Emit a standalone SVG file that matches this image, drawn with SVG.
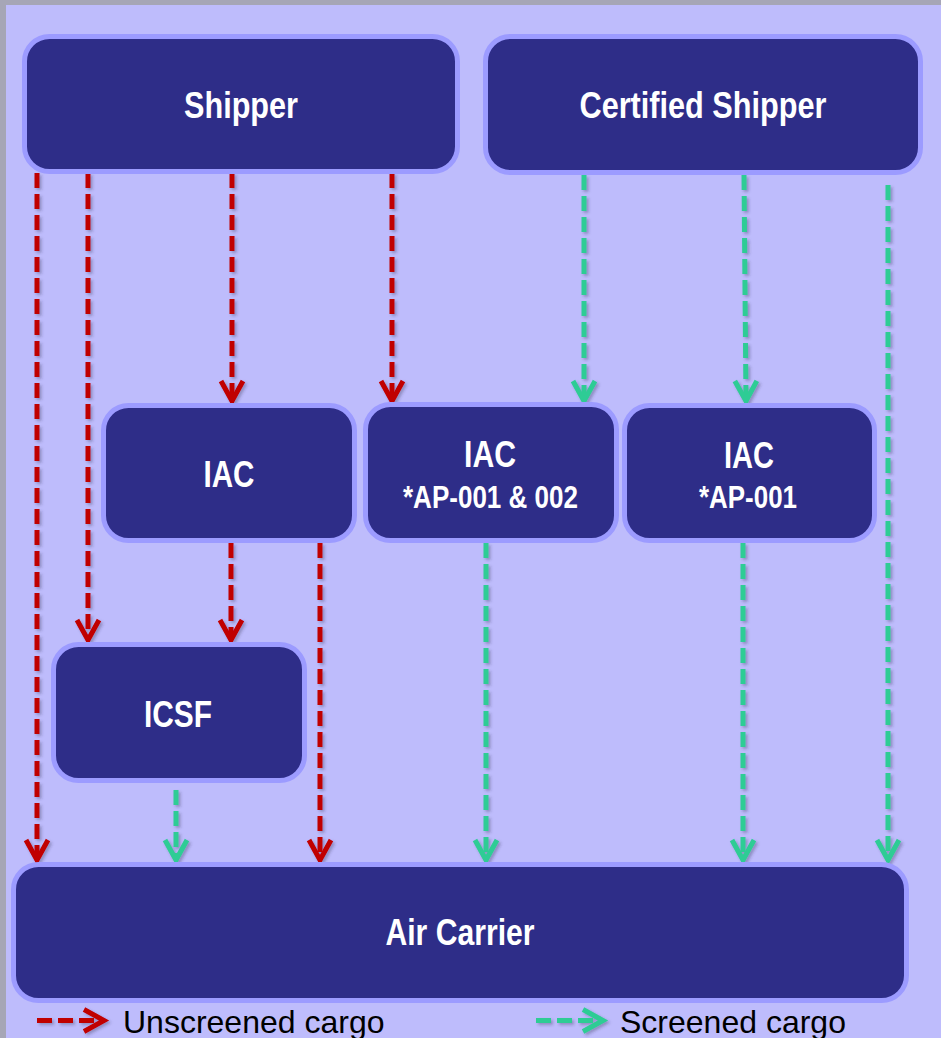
<svg xmlns="http://www.w3.org/2000/svg" width="941" height="1038" viewBox="0 0 941 1038">
  <style>
    .node { fill: #2E2D88; stroke: #9C9BFF; stroke-width: 5; }
    .lbl { font-family: "Liberation Sans", Arial, sans-serif; font-weight: bold; fill: #FFFFFF; text-anchor: middle; }
    .big { font-size: 36px; }
    .sub { font-size: 31px; }
    .red { stroke: #C00000; stroke-width: 5; stroke-dasharray: 15 6; fill: none; }
    .grn { stroke: #2ECC95; stroke-width: 5; stroke-dasharray: 15 6; fill: none; }
    .leg { font-family: "Liberation Sans", Arial, sans-serif; font-size: 32px; fill: #000000; }
  </style>
  <defs>
    <filter id="sh" filterUnits="userSpaceOnUse" x="0" y="0" width="941" height="1038">
      <feDropShadow dx="2" dy="2" stdDeviation="1.5" flood-color="#333355" flood-opacity="0.35"/>
    </filter>
    <marker id="ar" markerUnits="userSpaceOnUse" markerWidth="30" markerHeight="30" refX="0" refY="0" viewBox="-25 -15 30 30" orient="auto" overflow="visible">
      <path d="M-20,-11 L0,0 L-20,11" fill="none" stroke="#C00000" stroke-width="5" stroke-linejoin="miter"/>
    </marker>
    <marker id="ag" markerUnits="userSpaceOnUse" markerWidth="30" markerHeight="30" refX="0" refY="0" viewBox="-25 -15 30 30" orient="auto" overflow="visible">
      <path d="M-20,-11 L0,0 L-20,11" fill="none" stroke="#2ECC95" stroke-width="5" stroke-linejoin="miter"/>
    </marker>
  </defs>

  <rect x="0" y="0" width="941" height="1038" fill="#A6A6B6"/>
  <rect x="6" y="5" width="935" height="1033" fill="#BEBCFC"/>

  <g id="connectors" filter="url(#sh)">
    <path class="red" d="M37,173 L37,860" marker-end="url(#ar)"/>
    <path class="red" d="M88,173 L88,640" marker-end="url(#ar)"/>
    <path class="red" d="M232,173 L232,401" marker-end="url(#ar)"/>
    <path class="red" d="M392,173 L392,401" marker-end="url(#ar)"/>
    <path class="red" d="M231,543 L231,640" marker-end="url(#ar)"/>
    <path class="red" d="M320,543 L320,860" marker-end="url(#ar)"/>
    <path class="grn" d="M584,175 L584,401" marker-end="url(#ag)"/>
    <path class="grn" d="M744,175 L746,401" marker-end="url(#ag)"/>
    <path class="grn" d="M888,185 L888,860" marker-end="url(#ag)"/>
    <path class="grn" d="M176,790 L176,860" marker-end="url(#ag)"/>
    <path class="grn" d="M486,543 L486,860" marker-end="url(#ag)"/>
    <path class="grn" d="M743,543 L743,860" marker-end="url(#ag)"/>
  </g>

  <g id="shipper">
    <rect class="node" x="24.5" y="36.5" width="433" height="135" rx="25"/>
    <text class="lbl big" x="241" y="118" textLength="114" lengthAdjust="spacingAndGlyphs">Shipper</text>
  </g>
  <g id="certified-shipper">
    <rect class="node" x="485.5" y="36.5" width="435" height="136" rx="25"/>
    <text class="lbl big" x="703" y="118" textLength="247" lengthAdjust="spacingAndGlyphs">Certified Shipper</text>
  </g>
  <g id="iac1">
    <rect class="node" x="103.5" y="405.5" width="251" height="135" rx="25"/>
    <text class="lbl big" x="229" y="487" textLength="51" lengthAdjust="spacingAndGlyphs">IAC</text>
  </g>
  <g id="iac2">
    <rect class="node" x="365.5" y="404.5" width="251" height="136" rx="25"/>
    <text class="lbl big" x="490" y="467" textLength="52" lengthAdjust="spacingAndGlyphs">IAC</text>
    <text class="lbl sub" x="490.5" y="508" textLength="175" lengthAdjust="spacingAndGlyphs">*AP-001 &amp; 002</text>
  </g>
  <g id="iac3">
    <rect class="node" x="624.5" y="405.5" width="250" height="135" rx="25"/>
    <text class="lbl big" x="749" y="468" textLength="50" lengthAdjust="spacingAndGlyphs">IAC</text>
    <text class="lbl sub" x="748" y="508" textLength="98" lengthAdjust="spacingAndGlyphs">*AP-001</text>
  </g>
  <g id="icsf">
    <rect class="node" x="53.5" y="644.5" width="251" height="136" rx="25"/>
    <text class="lbl big" x="178" y="727" textLength="68" lengthAdjust="spacingAndGlyphs">ICSF</text>
  </g>
  <g id="air-carrier">
    <rect class="node" x="13.5" y="864.5" width="893" height="136" rx="25"/>
    <text class="lbl big" x="460" y="945" textLength="149" lengthAdjust="spacingAndGlyphs">Air Carrier</text>
  </g>

  <g id="legend">
    <g filter="url(#sh)">
      <path class="red" d="M37,1020.5 L104,1020.5" stroke-dasharray="16 7" marker-end="url(#ar)"/>
      <path class="grn" d="M536,1020.5 L603,1020.5" stroke-dasharray="16 7" marker-end="url(#ag)"/>
    </g>
    <text class="leg" x="123" y="1033">Unscreened cargo</text>
    <text class="leg" x="620" y="1033">Screened cargo</text>
  </g>
</svg>
